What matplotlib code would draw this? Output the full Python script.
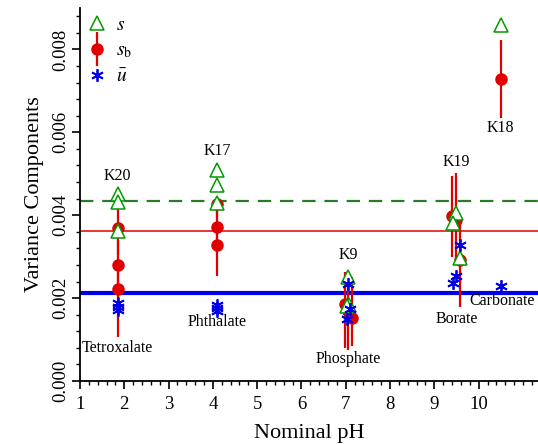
import matplotlib
matplotlib.use("Agg")
import matplotlib.pyplot as plt
from matplotlib.lines import Line2D
from matplotlib.legend_handler import HandlerTuple
from matplotlib.ticker import MultipleLocator, FormatStrFormatter

plt.rcParams["font.family"] = ["Liberation Serif", "DejaVu Serif"]
plt.rcParams["mathtext.fontset"] = "stix"

# s (triangles)
s_x = [1.85, 1.85, 1.85, 4.10, 4.10, 4.10, 7.05, 7.08, 7.02, 9.50, 9.41, 9.59, 10.50]
s_y = [0.00450, 0.00433, 0.00361, 0.00508, 0.00474, 0.00430,
       0.00252, 0.00183, 0.00180, 0.00406, 0.00382, 0.00297, 0.00858]

# s_b (dots) with error bars
sb_x = [1.85, 1.85, 1.85, 4.10, 4.10, 4.10, 6.99, 7.13, 7.06, 9.40, 9.50, 9.59, 10.50]
sb_y = [0.00370, 0.00279, 0.00221, 0.00426, 0.00372, 0.00328,
        0.00185, 0.00153, 0.00170, 0.00399, 0.00389, 0.00293, 0.00728]
sb_lo = [0.00305, 0.00220, 0.00106, 0.00395, 0.00330, 0.00253,
         0.00080, 0.00085, 0.00075, 0.00298, 0.00288, 0.00178, 0.00634]
sb_hi = [0.00433, 0.00340, 0.00280, 0.00440, 0.00415, 0.00370,
         0.00262, 0.00250, 0.00255, 0.00495, 0.00502, 0.00397, 0.00822]

# u-bar (asterisks)
u_x = [1.85, 1.85, 1.85, 4.10, 4.10, 4.10, 7.05, 7.09, 7.03, 9.59, 9.50, 9.41, 10.50]
u_y = [0.00188, 0.00178, 0.00171, 0.00183, 0.00175, 0.00168,
       0.00233, 0.00173, 0.00149, 0.00327, 0.00253, 0.00237, 0.00229]

# pooled values
s_pool = 0.00435
sb_pool = 0.00363
u_pool = 0.00212

# annotations
key_txt = ["K20", "K17", "K9", "K19", "K18"]
key_x = [1.85, 4.10, 7.05, 9.50, 10.50]
key_y = [0.00495, 0.00555, 0.00303, 0.00529, 0.00611]
buf_txt = ["Tetroxalate", "Phthalate", "Phosphate", "Borate", "Carbonate"]
buf_x = [1.85, 4.10, 7.05, 9.51, 10.53]
buf_y = [0.00079, 0.00142, 0.00053, 0.00149, 0.00192]

RED = "#e00000"
GREEN = "#009a00"
BLUE = "#0000e6"

fig = plt.figure(figsize=(5.38, 4.44), dpi=100)
ax = fig.add_axes([80 / 538, 63 / 444, 458 / 538, 373 / 444])

ax.axhline(s_pool, color="#2a7a2a", lw=1.6, ls=(0, (6, 4)), zorder=1)
ax.axhline(sb_pool, color=RED, lw=1.1, zorder=1)
ax.axhline(u_pool, color=BLUE, lw=3.0, zorder=1)

ax.vlines(sb_x, sb_lo, sb_hi, color=RED, lw=1.6, zorder=2)
ax.plot(sb_x, sb_y, "o", color=RED, ms=8, zorder=3)
ax.plot(s_x, s_y, "^", mfc="white", mec=GREEN, mew=1.1, ms=10, ls="none", zorder=4)
ax.plot(u_x, u_y, marker=(6, 2, 0), color=BLUE, ms=9, mew=1.3, ls="none", zorder=5)

for t, x, y in zip(key_txt, key_x, key_y):
    ax.text(x, y, t, ha="center", va="center", fontsize=11.5)
for t, x, y in zip(buf_txt, buf_x, buf_y):
    ax.text(x, y, t, ha="center", va="center", fontsize=11.5)

ax.set_xlim(1, 11.34)
ax.set_ylim(0, 0.0090)
ax.xaxis.set_major_locator(MultipleLocator(1))
ax.xaxis.set_minor_locator(MultipleLocator(0.2))
ax.yaxis.set_major_locator(MultipleLocator(0.002))
ax.yaxis.set_minor_locator(MultipleLocator(0.0004))
ax.yaxis.set_major_formatter(FormatStrFormatter("%.3f"))
ax.set_xticks(range(1, 11))

for side in ("top", "right"):
    ax.spines[side].set_visible(False)
for side in ("left", "bottom"):
    ax.spines[side].set_linewidth(1.3)
ax.tick_params(which="major", length=5.5, width=1.2, labelsize=13.5)
ax.tick_params(axis="x", which="major", pad=5)
ax.tick_params(axis="y", which="major", pad=2)
ax.tick_params(which="minor", length=3, width=1.0)
for lbl in ax.get_yticklabels():
    lbl.set_rotation(90)
    lbl.set_va("center")

ax.set_xlabel("Nominal pH", fontsize=16, labelpad=8)
ax.set_ylabel("Variance Components", fontsize=16, labelpad=6)

h_s = Line2D([], [], marker="^", mfc="white", mec=GREEN, mew=1.1, ms=10, ls="none")
h_bar = Line2D([], [], marker="|", color=RED, ms=24, mew=1.6, ls="none")
h_dot = Line2D([], [], marker="o", color=RED, ms=8, ls="none")
h_u = Line2D([], [], marker=(6, 2, 0), color=BLUE, ms=9, mew=1.3, ls="none")
ax.legend([h_s, (h_bar, h_dot), h_u], [r"$s$", r"$s_{\mathrm{b}}$", r"$\bar{u}$"],
          handler_map={tuple: HandlerTuple(ndivide=1)},
          loc="upper left", bbox_to_anchor=(-0.01, 1.01), frameon=False,
          fontsize=14, handlelength=1.0, handletextpad=0.5, labelspacing=0.42,
          borderaxespad=0.2)

fig.savefig("out.png", dpi=100)
